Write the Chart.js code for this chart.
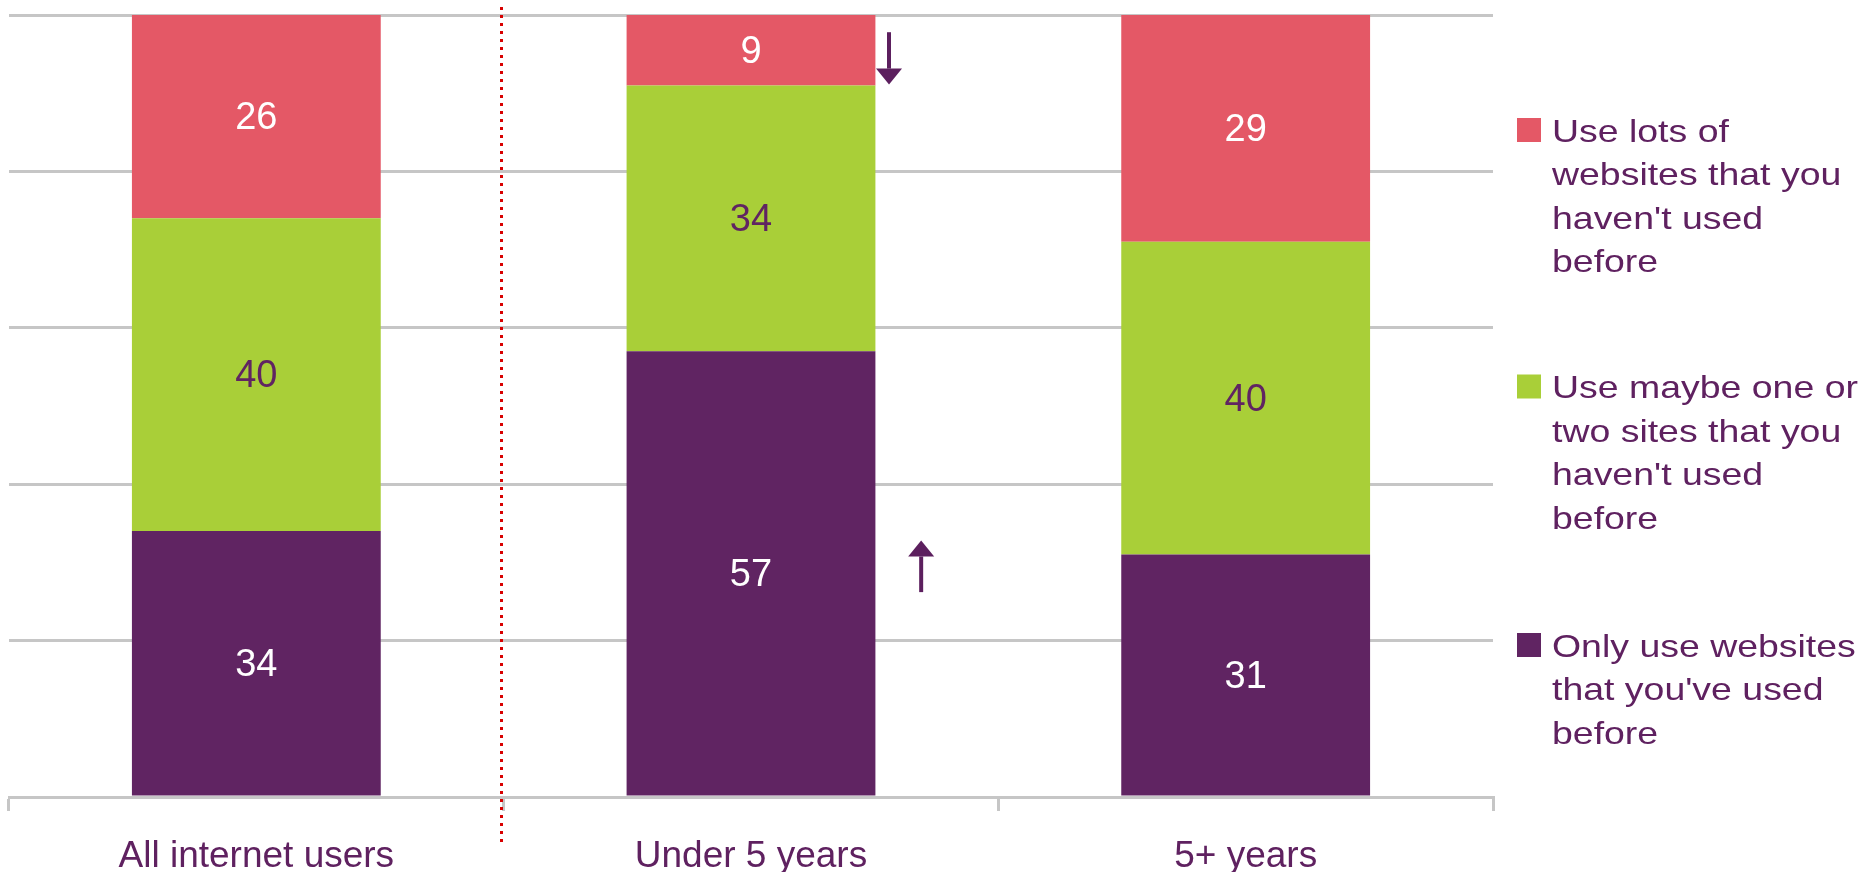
<!DOCTYPE html>
<html><head><meta charset="utf-8">
<script src="https://cdn.jsdelivr.net/npm/chart.js@4.4.1/dist/chart.umd.min.js"></script>
<style>html,body{margin:0;padding:0;background:#fff;} #wrap{width:1872px;height:872px;position:relative;}</style>
</head><body><div id="wrap"><canvas id="c"></canvas></div>
<script>
// ---- data ----
const categories = ['All internet users', 'Under 5 years', '5+ years'];
const seriesNames = ["Only use websites that you've used before", "Use maybe one or two sites that you haven't used before", "Use lots of websites that you haven't used before"];
const legendLines = [["Only use websites", "that you've used", "before"], ["Use maybe one or", "two sites that you", "haven't used", "before"], ["Use lots of", "websites that you", "haven't used", "before"]];
const onlyUsed = [34, 57, 31];
const oneOrTwo = [40, 34, 40];
const lotsOf = [26, 9, 29];
const yTicks = [0, 20, 40, 60, 80, 100];
// significance arrows (category index, direction, value range)
const changeArrows = [
  { category: 1, dir: 'down', from: 97.8, to: 91.1 },
  { category: 1, dir: 'up', from: 26.2, to: 32.8 }
];

// ---- styles ----
const COLORS = ['#602462', '#A9CF38', '#E45866'];
const LABEL_COLORS = ['#FFFFFF', '#602462', '#FFFFFF'];
const TEXT = '#5F2160';
const GRID = '#C6C6C6';
const FONT = '"Liberation Sans", Arial, sans-serif';
const ARROW_OFFSETS = [0.279, 0.344];

const values = [onlyUsed, oneOrTwo, lotsOf];

const dataLabels = {
  id: 'dataLabels',
  afterDatasetsDraw(chart) {
    const ctx = chart.ctx;
    ctx.save();
    ctx.font = '38px ' + FONT;
    ctx.textAlign = 'center';
    ctx.textBaseline = 'middle';
    chart.data.datasets.forEach((ds, i) => {
      const meta = chart.getDatasetMeta(i);
      meta.data.forEach((bar, j) => {
        const p = bar.getProps(['x', 'y', 'base'], true);
        ctx.fillStyle = LABEL_COLORS[i];
        ctx.fillText(String(ds.data[j]), p.x, (p.y + p.base) / 2 + 2);
      });
    });
    ctx.restore();
  }
};

const extras = {
  id: 'extras',
  afterDraw(chart) {
    const ctx = chart.ctx;
    const xs = chart.scales.x, ys = chart.scales.y;
    const ca = chart.chartArea;
    // dotted separator
    const sx = Math.round((xs.getPixelForValue(0) + xs.getPixelForValue(1)) / 2) - 2.5;
    ctx.save();
    ctx.strokeStyle = '#D80000';
    ctx.lineWidth = 3;
    ctx.setLineDash([3, 5]);
    ctx.beginPath();
    ctx.moveTo(sx, ca.top - 8);
    ctx.lineTo(sx, 843);
    ctx.stroke();
    ctx.restore();
    // arrows
    const catW = xs.getPixelForValue(1) - xs.getPixelForValue(0);
    changeArrows.forEach((a, k) => {
      const x = xs.getPixelForValue(a.category) + ARROW_OFFSETS[k] * catW;
      const y0 = ys.getPixelForValue(a.from);
      const y1 = ys.getPixelForValue(a.to);
      const dirSign = y1 > y0 ? 1 : -1;
      const headH = 16, headW = 13;
      ctx.save();
      ctx.strokeStyle = '#5C1F5E';
      ctx.fillStyle = '#5C1F5E';
      ctx.lineWidth = 4;
      ctx.beginPath();
      ctx.moveTo(x, y0);
      ctx.lineTo(x, y1 - dirSign * headH);
      ctx.stroke();
      ctx.beginPath();
      ctx.moveTo(x, y1);
      ctx.lineTo(x - headW, y1 - dirSign * headH);
      ctx.lineTo(x + headW, y1 - dirSign * headH);
      ctx.closePath();
      ctx.fill();
      ctx.restore();
    });
    // legend (top to bottom: last dataset first)
    const centers = [130, 386.5, 645];
    ctx.save();
    ctx.font = '32px ' + FONT;
    ctx.textBaseline = 'alphabetic';
    ctx.textAlign = 'left';
    [2, 1, 0].forEach((di, n) => {
      const cy = centers[n];
      ctx.fillStyle = COLORS[di];
      ctx.fillRect(1517, cy - 12, 24, 24);
      ctx.fillStyle = TEXT;
      legendLines[di].forEach((line, li) => {
        ctx.save();
        ctx.translate(1552, cy + 11.5 + li * 43.5);
        ctx.scale(1.17, 1);
        ctx.fillText(line, 0, 0);
        ctx.restore();
      });
    });
    ctx.restore();
  }
};

new Chart(document.getElementById('c'), {
  type: 'bar',
  data: {
    labels: categories,
    datasets: values.map((v, i) => ({
      label: seriesNames[i],
      data: v,
      backgroundColor: COLORS[i],
      borderWidth: 0,
      categoryPercentage: 0.503,
      barPercentage: 1
    }))
  },
  options: {
    responsive: true,
    maintainAspectRatio: false,
    animation: false,
    events: [],
    layout: { padding: { left: 9, right: 379, top: 15, bottom: 0 } },
    plugins: { legend: { display: false }, tooltip: { enabled: false } },
    scales: {
      x: {
        stacked: true,
        offset: true,
        afterFit(s) { s.height = 75; },
        grid: { offset: true, drawOnChartArea: false, drawTicks: true, tickLength: 14, color: GRID, lineWidth: 3 },
        border: { display: true, color: GRID, width: 3 },
        ticks: { color: TEXT, font: { family: FONT, size: 37 }, padding: 24, maxRotation: 0 }
      },
      y: {
        stacked: true,
        min: 0, max: 100,
        afterFit(s) { s.width = 0; },
        afterBuildTicks(s) { s.ticks = yTicks.map(v => ({ value: v })); },
        ticks: { display: false },
        border: { display: false },
        grid: { color: GRID, lineWidth: 3, drawTicks: false }
      }
    }
  },
  plugins: [dataLabels, extras]
});
</script>
</body></html>
